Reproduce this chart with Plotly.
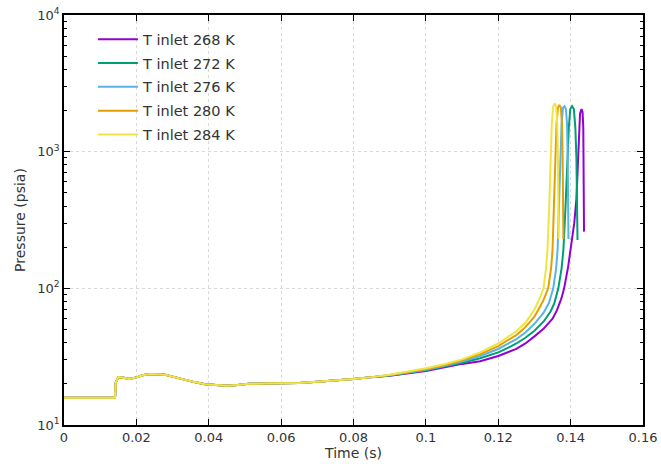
import plotly.graph_objects as go

# ---- data ----
labels = ["T inlet 268 K", "T inlet 272 K", "T inlet 276 K", "T inlet 280 K", "T inlet 284 K"]
colors = ["#9400d3", "#009e73", "#56b4e9", "#e69f00", "#f0e442"]

# common early part (all curves overlap)
t_common = [0.0, 0.0141, 0.0143, 0.0150, 0.0165, 0.018, 0.020, 0.022, 0.024, 0.026, 0.028,
            0.030, 0.033, 0.036, 0.039, 0.042, 0.045, 0.048, 0.051, 0.055, 0.060, 0.065,
            0.070, 0.075, 0.080, 0.085]
p_common = [15.8, 15.8, 20.5, 22.4, 22.2, 21.7, 22.3, 23.2, 23.6, 23.6, 23.3,
            22.6, 21.5, 20.6, 19.9, 19.6, 19.4, 19.6, 20.0, 20.1, 20.1, 20.3,
            20.7, 21.1, 21.7, 22.4]

t_268 = [0.09, 0.1, 0.105, 0.11, 0.115, 0.12, 0.125, 0.1275, 0.13, 0.1325, 0.135, 0.1362,
         0.1375, 0.1382, 0.1393, 0.1400, 0.1410, 0.1416, 0.1420, 0.1423, 0.1426, 0.1430,
         0.1433, 0.1435, 0.1436, 0.1437, 0.1437]
p_268 = [22.9, 24.8, 26.3, 28.0, 29.3, 32.0, 36.0, 39.5, 44.5, 50.5, 60, 69,
         85, 100, 143, 191, 300, 450, 800, 1400, 1900, 2050,
         1950, 1500, 900, 500, 260]

t_272 = [0.09, 0.1, 0.105, 0.11, 0.115, 0.12, 0.1225, 0.125, 0.1275, 0.13, 0.1325, 0.1345,
         0.1355, 0.1366, 0.1375, 0.1380, 0.1386, 0.1391, 0.1395, 0.1399, 0.1404, 0.1409,
         0.1413, 0.1416, 0.1418, 0.1419]
p_272 = [23.0, 25.1, 26.6, 28.5, 30.8, 34.0, 36.5, 39.5, 43.5, 49, 57, 68,
         78, 100, 140, 191, 400, 900, 1500, 2050, 2150, 2050,
         1500, 900, 450, 226]

t_276 = [0.09, 0.1, 0.105, 0.11, 0.115, 0.12, 0.1225, 0.125, 0.1275, 0.13, 0.1325, 0.1340,
         0.1352, 0.1360, 0.1364, 0.1368, 0.1372, 0.1375, 0.1379, 0.1383, 0.1387, 0.1390,
         0.1392, 0.1393, 0.1394]
p_276 = [23.1, 25.4, 27.0, 29.1, 32.0, 36.0, 39.0, 42.5, 47.5, 55, 66, 78,
         100, 140, 191, 400, 900, 1600, 2100, 2150, 2050, 1600,
         900, 450, 230]

t_280 = [0.09, 0.1, 0.105, 0.11, 0.115, 0.12, 0.1225, 0.125, 0.1275, 0.13, 0.1315, 0.1325,
         0.1338, 0.1346, 0.1350, 0.1354, 0.1358, 0.1361, 0.1365, 0.1369, 0.1373, 0.1376,
         0.1378, 0.1379, 0.1380]
p_280 = [23.2, 25.7, 27.4, 29.7, 33.0, 37.8, 41.2, 45.5, 52, 62, 73, 82,
         100, 140, 191, 400, 900, 1600, 2100, 2200, 2100, 1600,
         900, 450, 230]

t_284 = [0.09, 0.1, 0.105, 0.11, 0.115, 0.12, 0.1225, 0.125, 0.1275, 0.13, 0.1315, 0.1325,
         0.1332, 0.1336, 0.1341, 0.1345, 0.1348, 0.1352, 0.1356, 0.1360, 0.1363, 0.1365,
         0.1366, 0.1367]
p_284 = [23.3, 26.0, 27.8, 30.2, 34.0, 39.5, 43.5, 48.5, 56, 70, 85, 100,
         140, 191, 400, 900, 1600, 2150, 2250, 2150, 1600, 900,
         450, 230]

series_t = [t_268, t_272, t_276, t_280, t_284]
series_p = [p_268, p_272, p_276, p_280, p_284]

x_ticks = [0, 0.02, 0.04, 0.06, 0.08, 0.1, 0.12, 0.14, 0.16]
x_ticktext = ["0", "0.02", "0.04", "0.06", "0.08", "0.1", "0.12", "0.14", "0.16"]
y_ticks = [10, 100, 1000, 10000]
y_ticktext = ["10<sup>1</sup>", "10<sup>2</sup>", "10<sup>3</sup>", "10<sup>4</sup>"]

fig = go.Figure()
for i, (lab, col, ts, ps) in enumerate(zip(labels, colors, series_t, series_p)):
    fig.add_trace(go.Scatter(x=t_common + ts, y=p_common + ps, mode="lines", name=lab,
                             legendgroup=f"g{i}",
                             line=dict(color=col, width=2)))

minor_vals = [m * d for d in (10, 100, 1000) for m in range(2, 10)]

fig.update_layout(
    width=661, height=464,
    margin=dict(l=64, r=18, t=15, b=39),
    paper_bgcolor="white", plot_bgcolor="white",
    font=dict(family="DejaVu Sans", size=13, color="#333"),
    showlegend=True,
    legend=dict(x=0.05, y=0.98, xanchor="left", yanchor="top",
                bgcolor="rgba(0,0,0,0)", font=dict(size=14.5, color="#333"),
                tracegroupgap=2, itemwidth=40),
    xaxis=dict(range=[0, 0.16], tickvals=x_ticks, ticktext=x_ticktext,
               automargin=False,
               showline=True, linecolor="black", linewidth=1.5, mirror="ticks",
               ticks="inside", ticklen=6, tickcolor="black",
               showgrid=True, gridcolor="#d8d8d8", griddash="dot", gridwidth=1,
               zeroline=False,
               title=dict(text="Time (s)", standoff=4, font=dict(size=14))),
    yaxis=dict(type="log", range=[1, 4], tickvals=y_ticks, ticktext=y_ticktext,
               automargin=False,
               showline=True, linecolor="black", linewidth=1.5, mirror="ticks",
               ticks="inside", ticklen=6, tickcolor="black",
               showgrid=True, gridcolor="#d8d8d8", griddash="dot", gridwidth=1,
               zeroline=False,
               minor=dict(tickvals=minor_vals, ticks="inside", ticklen=3,
                          tickcolor="black", showgrid=False),
               title=dict(text="Pressure (psia)", standoff=8, font=dict(size=14))),
)

fig.write_html("out.html")
